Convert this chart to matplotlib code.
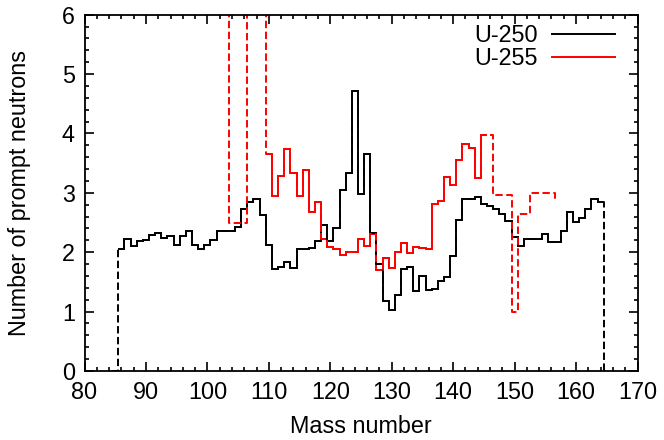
import matplotlib.pyplot as plt
import numpy as np
from matplotlib.lines import Line2D
from matplotlib.ticker import MultipleLocator

plt.rcParams['font.family'] = ['Liberation Sans', 'DejaVu Sans']

# prompt neutron multiplicity per fragment mass (bin centres)
u250_mass = np.arange(85, 166)
u250_nu = [0.00, 2.05, 2.23, 2.11, 2.19, 2.20, 2.29, 2.33, 2.24, 2.27,   # 85-94
           2.12, 2.27, 2.36, 2.12, 2.05, 2.13, 2.20, 2.36, 2.36, 2.36,   # 95-104
           2.43, 2.73, 2.84, 2.90, 2.62, 2.12, 1.72, 1.75, 1.84, 1.74,   # 105-114
           2.06, 2.06, 2.07, 2.19, 2.46, 2.19, 2.40, 3.04, 3.33, 4.72,   # 115-124
           2.98, 3.65, 2.33, 1.81, 1.18, 1.03, 1.28, 1.72, 1.75, 1.35,   # 125-134
           1.60, 1.36, 1.38, 1.52, 1.59, 1.94, 2.55, 2.89, 2.90, 2.93,   # 135-144
           2.81, 2.78, 2.72, 2.65, 2.52, 2.25, 2.10, 2.23, 2.23, 2.23,   # 145-154
           2.30, 2.18, 2.18, 2.36, 2.68, 2.51, 2.58, 2.72, 2.89, 2.85,   # 155-164
           0.00]                                                         # 165
u250_solid = (86, 164)

u255_mass = np.arange(103, 158)
u255_nu = [7.50, 2.49, 2.49, 2.49, 8.00, 8.00, 8.00,                     # 103-109
           3.66, 2.95, 3.29, 3.74, 3.34, 2.95, 3.38, 2.68, 2.85, 2.23,   # 110-119
           2.09, 2.05, 1.96, 2.00, 2.00, 2.23, 2.10, 2.30, 1.70, 1.91,   # 120-129
           1.73, 2.00, 2.16, 1.98, 2.08, 2.07, 2.06, 2.81, 2.86, 3.27,   # 130-139
           3.13, 3.55, 3.83, 3.76, 3.25, 3.98, 3.98, 2.97, 2.97, 2.97,   # 140-149
           1.00, 2.65, 2.65, 2.99, 2.99, 2.99, 2.99, 2.89]               # 150-157
u255_solid = (110, 145)

labels = ['U-250', 'U-255']
colors = ['black', 'red']

fs = 16.8
fig = plt.figure(figsize=(6.64, 4.4), dpi=100)
ax = fig.add_axes([0.1273, 0.1568, 0.8328, 0.8098])

series = [(u250_mass, u250_nu, u250_solid), (u255_mass, u255_nu, u255_solid)]
handles = []
for (mass, nu, (lo, hi)), c, lab in zip(series, colors, labels):
    nu = np.asarray(nu, dtype=float)
    edges = mass - 0.5
    # whole series dashed, reliable part drawn solid on top
    ax.step(edges, nu, where='post', color=c, lw=1.4, ls=(0, (3.8, 1.8)))
    sel = (mass >= lo) & (mass <= hi)
    ax.stairs(nu[sel], np.append(edges[sel], edges[sel][-1] + 1),
              baseline=None, color=c, lw=1.4)
    handles.append(Line2D([], [], color=c, lw=1.4, label=lab))

ax.set_xlim(80, 170)
ax.set_ylim(0, 6)
ax.set_xticks(np.arange(80, 171, 10))
ax.set_yticks(np.arange(0, 7, 1))
ax.xaxis.set_minor_locator(MultipleLocator(2))
ax.yaxis.set_minor_locator(MultipleLocator(0.2))
ax.tick_params(which='both', direction='in', top=True, right=True, width=1.2)
ax.tick_params(which='major', length=6.5, labelsize=fs)
ax.tick_params(which='minor', length=3.2)
ax.tick_params(axis='x', pad=7.5)
ax.tick_params(axis='y', pad=7)
for s in ax.spines.values():
    s.set_linewidth(1.3)

fig.text(361 / 664, 1 - 426 / 440, 'Mass number', fontsize=fs, ha='center', va='center')
fig.text(20 / 664, 1 - 193 / 440, 'Number of prompt neutrons', fontsize=fs,
         ha='center', va='center', rotation=90)

ax.legend(handles=handles, loc='upper right', bbox_to_anchor=(0.926, 0.946),
          bbox_transform=fig.transFigure, frameon=False, fontsize=fs,
          markerfirst=False, handlelength=2.7, handletextpad=0.6,
          labelspacing=0.03, borderpad=0, borderaxespad=0)

fig.savefig('out.png', dpi=100)
